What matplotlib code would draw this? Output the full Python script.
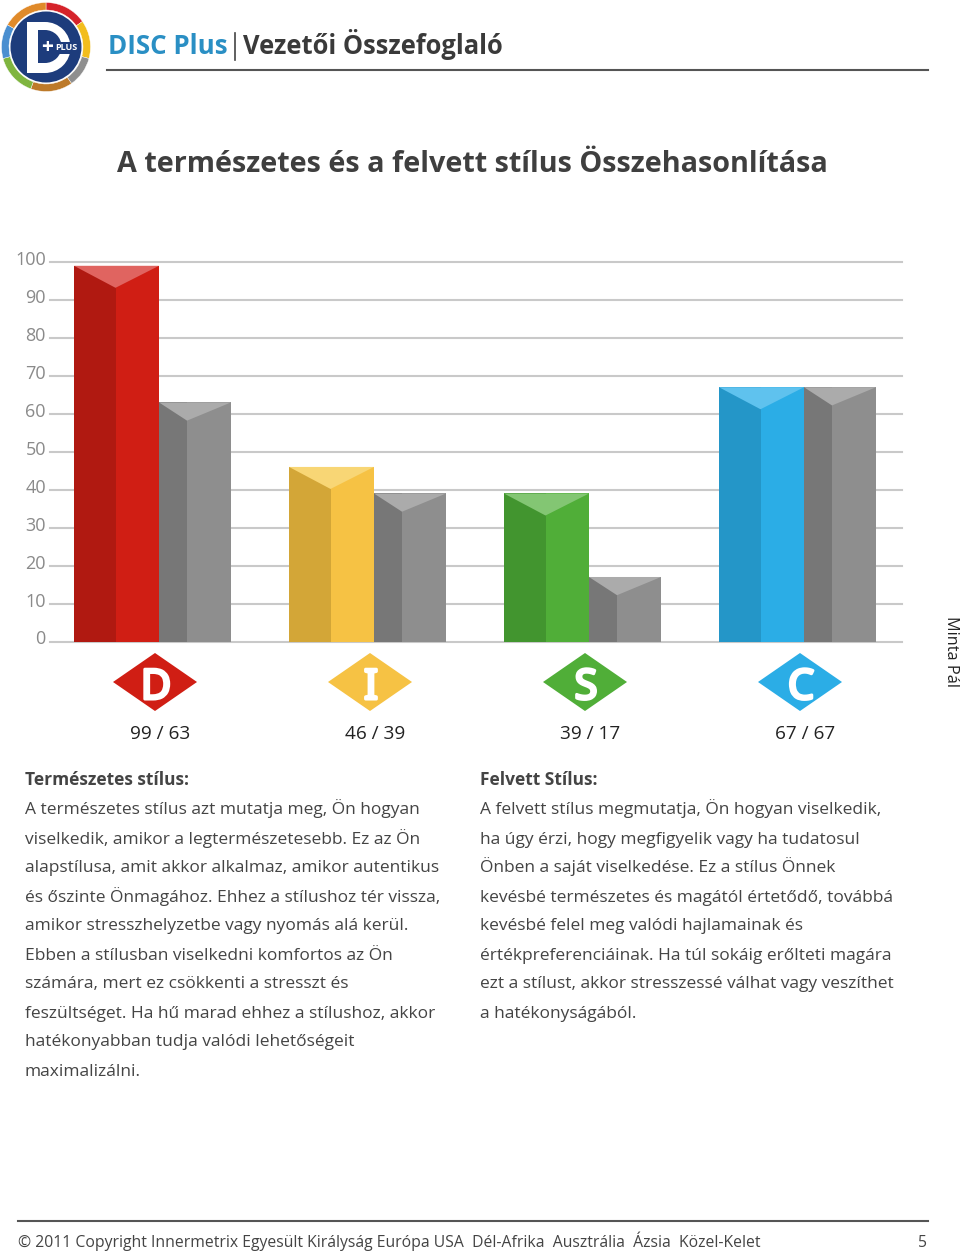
import matplotlib
matplotlib.use("Agg")
import matplotlib.pyplot as plt
import matplotlib.patheffects as pe
from matplotlib.patches import Wedge, Circle, Polygon, Rectangle
from matplotlib.transforms import ScaledTranslation

plt.rcParams['font.family'] = ['Open Sans', 'DejaVu Sans']

# ---- data ----
styles = ['D', 'I', 'S', 'C']
natural = [99, 46, 39, 67]
adapted = [63, 39, 17, 67]
yticks = [0, 10, 20, 30, 40, 50, 60, 70, 80, 90, 100]

left_title = "Természetes stílus:"
left_lines = [
    "A természetes stílus azt mutatja meg, Ön hogyan",
    "viselkedik, amikor a legtermészetesebb. Ez az Ön",
    "alapstílusa, amit akkor alkalmaz, amikor autentikus",
    "és őszinte Önmagához. Ehhez a stílushoz tér vissza,",
    "amikor stresszhelyzetbe vagy nyomás alá kerül.",
    "Ebben a stílusban viselkedni komfortos az Ön",
    "számára, mert ez csökkenti a stresszt és",
    "feszültséget. Ha hű marad ehhez a stílushoz, akkor",
    "hatékonyabban tudja valódi lehetőségeit",
    "maximalizálni.",
]
right_title = "Felvett Stílus:"
right_lines = [
    "A felvett stílus megmutatja, Ön hogyan viselkedik,",
    "ha úgy érzi, hogy megfigyelik vagy ha tudatosul",
    "Önben a saját viselkedése. Ez a stílus Önnek",
    "kevésbé természetes és magától értetődő, továbbá",
    "kevésbé felel meg valódi hajlamainak és",
    "értékpreferenciáinak. Ha túl sokáig erőlteti magára",
    "ezt a stílust, akkor stresszessé válhat vagy veszíthet",
    "a hatékonyságából.",
]

# színek: (bal oldal, jobb oldal, teteje)
colors = {
    'D': ('#b01911', '#d01e14', '#e06460'),
    'I': ('#d3a637', '#f6c244', '#f8d675'),
    'S': ('#42952f', '#50ae38', '#83c673'),
    'C': ('#2496c8', '#2bade6', '#5fc2ee'),
}
grey = ('#777777', '#8e8e8e', '#ababab')
navy = '#1d3c7c'
W, H = 960, 1253

fig = plt.figure(figsize=(W / 100, H / 100), dpi=100)
fig.patch.set_facecolor('white')

# ---- háttér tengely pixelben ----
page = fig.add_axes([0, 0, 1, 1])
page.set_xlim(0, W)
page.set_ylim(H, 0)
page.axis('off')

# ---- oszlopdiagram ----
ax = fig.add_axes([50 / W, 1 - 641.5 / H, 852 / W, 379.5 / H])
ax.patch.set_alpha(0)
ax.set_xlim(50, 902)
ax.set_ylim(0, 100)
for s in ax.spines.values():
    s.set_visible(False)
ax.set_yticks(yticks)
ax.set_xticks([])
ax.tick_params(axis='y', length=0, pad=3, labelsize=13, labelcolor='#8a8a8a')
shift = ScaledTranslation(0, 2 / 100, fig.dpi_scale_trans)
for lab in ax.get_yticklabels():
    lab.set_verticalalignment('center')
    lab.set_transform(lab.get_transform() + shift)
ax.grid(axis='y', color='#c9c9c9', linewidth=1.5, clip_on=False)
for g in ax.get_ygridlines():
    g.set_clip_on(False)
ax.set_axisbelow(True)


def bar3d(ax, x0, split, x1, value, cols, depth):
    ax.bar(x0, value, width=split - x0, align='edge', color=cols[0], linewidth=0, zorder=3)
    ax.bar(split, value, width=x1 - split, align='edge', color=cols[1], linewidth=0, zorder=3)
    ax.fill([x0, x1, split], [value, value, value - depth], color=cols[2], linewidth=0, zorder=4)


for i, s in enumerate(styles):
    off = 215 * i
    bar3d(ax, 74 + off, 115.5 + off, 159 + off, natural[i], colors[s], 5.8)
    bar3d(ax, 159 + off, 187 + off, 231 + off, adapted[i], grey, 4.8)
    cx = 155 + off
    page.add_patch(Polygon([(cx - 42, 682), (cx, 653), (cx + 42, 682), (cx, 711)],
                           closed=True, color=colors[s][1], linewidth=0))
    page.text(cx + 1, 699, s, color='white', fontsize=30, ha='center', va='baseline',
              family=['Noto Sans', 'DejaVu Sans'],
              path_effects=[pe.withStroke(linewidth=2.2, foreground='white')])
    page.text(160 + off, 739, f"{natural[i]} / {adapted[i]}", fontsize=13.7, color='#222222',
              ha='center', va='baseline')

# ---- logó ----
lx, ly = 46, 47
ring = [(35, 90, '#d5232a'), (-15, 35, '#f2bd1d'), (-55, -15, '#8f8f8f'), (-110, -55, '#bd7a2a'),
        (-165, -110, '#7fb53f'), (150, 195, '#4a8fd0'), (90, 150, '#e08a2a')]
for a, b, c in ring:
    page.add_patch(Wedge((lx, ly), 44.5, -b, -a, width=7.5, facecolor=c, edgecolor='white', linewidth=0.3))
page.add_patch(Circle((lx, ly), 35.5, color=navy, linewidth=0))
page.add_patch(Rectangle((27, 22), 18, 51, color='white', linewidth=0))
page.add_patch(Wedge((45, 47.5), 25.5, -90, 90, color='white', linewidth=0))
page.add_patch(Rectangle((38, 30), 7, 33, color=navy, linewidth=0))
page.add_patch(Wedge((45, 46.5), 16.5, -90, 90, color=navy, linewidth=0))
page.add_patch(Rectangle((55, 42), 22, 12, color=navy, linewidth=0))
page.text(47, 47.5, "+", color='white', fontsize=15, fontweight='bold', ha='center', va='center')
page.text(66, 48, "PLUS", color='white', fontsize=6.5, fontweight='bold', ha='center', va='center')

# ---- fejléc ----
page.text(108, 54, "DISC Plus", color='#2a8fc4', fontsize=18.6, fontweight='bold', ha='left', va='baseline')
page.plot([234.5, 234.5], [33, 60], color='#444444', lw=1.2)
page.text(243, 54, "Vezetői Összefoglaló", color='#3a3a3a', fontsize=18.4, fontweight='bold', ha='left', va='baseline')
page.plot([107, 928], [70, 70], color='#555555', lw=1.5)

page.text(472, 172, "A természetes és a felvett stílus Összehasonlítása", color='#3f3f3f',
          fontsize=20.66, fontweight='bold', ha='center', va='baseline')
page.text(951, 651, "Minta Pál", rotation=270, fontsize=11.7, color='#222222', ha='center', va='center')

# ---- szöveg ----
page.text(25, 785, left_title, fontsize=12.52, fontweight='bold', color='#444444', ha='left', va='baseline')
for i, line in enumerate(left_lines):
    page.text(25, 814.5 + 29 * i, line, fontsize=12.52, color='#444444', ha='left', va='baseline')
page.text(480, 785, right_title, fontsize=12.52, fontweight='bold', color='#444444', ha='left', va='baseline')
for i, line in enumerate(right_lines):
    page.text(480, 814.5 + 29 * i, line, fontsize=12.52, color='#444444', ha='left', va='baseline')

# ---- lábléc ----
page.plot([18, 928], [1221, 1221], color='#555555', lw=1.5)
page.text(18, 1247, "© 2011 Copyright Innermetrix Egyesült Királyság Európa USA  Dél-Afrika  Ausztrália  Ázsia  Közel-Kelet",
          fontsize=11.31, color='#444444', ha='left', va='baseline')
page.text(927, 1247, "5", fontsize=11.31, color='#444444', ha='right', va='baseline')

fig.savefig("out.png", dpi=100)
